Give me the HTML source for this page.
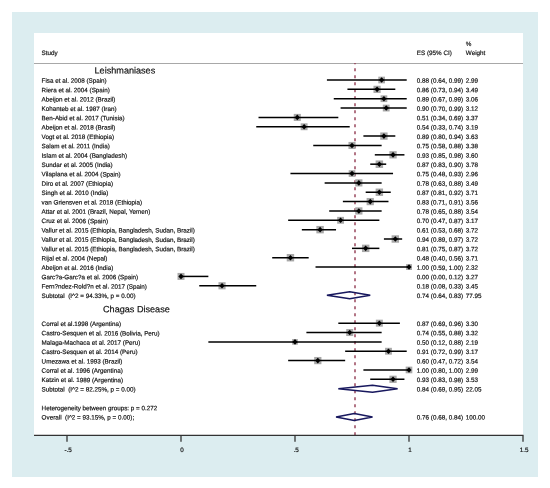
<!DOCTYPE html>
<html><head><meta charset="utf-8"><style>
html,body{margin:0;padding:0;background:#fff;}
svg{display:block;will-change:transform;}
text{font-family:"Liberation Sans", sans-serif;fill:#111111;stroke:#111111;stroke-width:0.18px;white-space:pre;}
</style></head><body>
<svg width="550" height="488" viewBox="0 0 550 488">
<rect x="0" y="0" width="550" height="488" fill="#ffffff"/>
<rect x="12" y="12" width="526" height="465" fill="#dcedf0"/>
<rect x="34" y="33" width="489" height="402.5" fill="#ffffff"/>
<text x="41.60" y="55.00" font-size="6.3" text-anchor="start" transform="rotate(0.05 41.60 55.00)">Study</text>
<text x="416.80" y="55.00" font-size="6.3" text-anchor="start" transform="rotate(0.05 416.80 55.00)">ES (95% CI)</text>
<text x="465.80" y="46.00" font-size="6.3" text-anchor="start" transform="rotate(0.05 465.80 46.00)">%</text>
<text x="465.80" y="55.00" font-size="6.3" text-anchor="start" transform="rotate(0.05 465.80 55.00)">Weight</text>
<line x1="34" y1="63.5" x2="523" y2="63.5" stroke="#a8a8a8" stroke-width="1"/>
<line x1="355.00" y1="63" x2="355.00" y2="435" stroke="#923a52" stroke-width="1.4" stroke-dasharray="3 4" stroke-dashoffset="1.8"/>
<text x="124.90" y="73.60" font-size="9.1" text-anchor="middle" transform="rotate(0.05 124.90 73.60)">Leishmaniases</text>
<text x="136.40" y="312.30" font-size="9.1" text-anchor="middle" transform="rotate(0.05 136.40 312.30)">Chagas Disease</text>
<text x="41.60" y="82.80" font-size="6.3" text-anchor="start" transform="rotate(0.05 41.60 82.80)">Fisa et al. 2008 (Spain)</text>
<text x="416.80" y="82.80" font-size="6.3" text-anchor="start" transform="rotate(0.05 416.80 82.80)">0.88 (0.64, 0.99)</text>
<text x="465.80" y="82.80" font-size="6.3" text-anchor="start" transform="rotate(0.05 465.80 82.80)">2.99</text>
<rect x="378.31" y="76.67" width="6.66" height="6.66" fill="#a8a8a8"/>
<line x1="326.92" y1="80.00" x2="406.72" y2="80.00" stroke="#000" stroke-width="1.5"/>
<path d="M379.04 80.00 L381.64 77.20 L384.24 80.00 L381.64 82.80 Z" fill="#000"/>
<text x="41.60" y="92.16" font-size="6.3" text-anchor="start" transform="rotate(0.05 41.60 92.16)">Riera et al. 2004 (Spain)</text>
<text x="416.80" y="92.16" font-size="6.3" text-anchor="start" transform="rotate(0.05 416.80 92.16)">0.86 (0.73, 0.94)</text>
<text x="465.80" y="92.16" font-size="6.3" text-anchor="start" transform="rotate(0.05 465.80 92.16)">3.49</text>
<rect x="373.48" y="85.76" width="7.19" height="7.19" fill="#a8a8a8"/>
<line x1="347.44" y1="89.36" x2="395.32" y2="89.36" stroke="#000" stroke-width="1.5"/>
<path d="M374.48 89.36 L377.08 86.56 L379.68 89.36 L377.08 92.16 Z" fill="#000"/>
<text x="41.60" y="101.51" font-size="6.3" text-anchor="start" transform="rotate(0.05 41.60 101.51)">Abeijon et al. 2012 (Brazil)</text>
<text x="416.80" y="101.51" font-size="6.3" text-anchor="start" transform="rotate(0.05 416.80 101.51)">0.89 (0.67, 0.99)</text>
<text x="465.80" y="101.51" font-size="6.3" text-anchor="start" transform="rotate(0.05 465.80 101.51)">3.06</text>
<rect x="380.55" y="95.34" width="6.73" height="6.73" fill="#a8a8a8"/>
<line x1="333.76" y1="98.71" x2="406.72" y2="98.71" stroke="#000" stroke-width="1.5"/>
<path d="M381.32 98.71 L383.92 95.91 L386.52 98.71 L383.92 101.51 Z" fill="#000"/>
<text x="41.60" y="110.86" font-size="6.3" text-anchor="start" transform="rotate(0.05 41.60 110.86)">Kohanteb et al. 1987 (Iran)</text>
<text x="416.80" y="110.86" font-size="6.3" text-anchor="start" transform="rotate(0.05 416.80 110.86)">0.90 (0.70, 0.99)</text>
<text x="465.80" y="110.86" font-size="6.3" text-anchor="start" transform="rotate(0.05 465.80 110.86)">3.12</text>
<rect x="382.80" y="104.66" width="6.80" height="6.80" fill="#a8a8a8"/>
<line x1="340.60" y1="108.06" x2="406.72" y2="108.06" stroke="#000" stroke-width="1.5"/>
<path d="M383.60 108.06 L386.20 105.26 L388.80 108.06 L386.20 110.86 Z" fill="#000"/>
<text x="41.60" y="120.22" font-size="6.3" text-anchor="start" transform="rotate(0.05 41.60 120.22)">Ben-Abid et al. 2017 (Tunisia)</text>
<text x="416.80" y="120.22" font-size="6.3" text-anchor="start" transform="rotate(0.05 416.80 120.22)">0.51 (0.34, 0.69)</text>
<text x="465.80" y="120.22" font-size="6.3" text-anchor="start" transform="rotate(0.05 465.80 120.22)">3.37</text>
<rect x="293.75" y="113.88" width="7.07" height="7.07" fill="#a8a8a8"/>
<line x1="258.52" y1="117.42" x2="338.32" y2="117.42" stroke="#000" stroke-width="1.5"/>
<path d="M294.68 117.42 L297.28 114.62 L299.88 117.42 L297.28 120.22 Z" fill="#000"/>
<text x="41.60" y="129.57" font-size="6.3" text-anchor="start" transform="rotate(0.05 41.60 129.57)">Abeijon et al. 2018 (Brasil)</text>
<text x="416.80" y="129.57" font-size="6.3" text-anchor="start" transform="rotate(0.05 416.80 129.57)">0.54 (0.33, 0.74)</text>
<text x="465.80" y="129.57" font-size="6.3" text-anchor="start" transform="rotate(0.05 465.80 129.57)">3.19</text>
<rect x="300.68" y="123.33" width="6.88" height="6.88" fill="#a8a8a8"/>
<line x1="256.24" y1="126.77" x2="349.72" y2="126.77" stroke="#000" stroke-width="1.5"/>
<path d="M301.52 126.77 L304.12 123.97 L306.72 126.77 L304.12 129.57 Z" fill="#000"/>
<text x="41.60" y="138.92" font-size="6.3" text-anchor="start" transform="rotate(0.05 41.60 138.92)">Vogt et al. 2018 (Ethiopia)</text>
<text x="416.80" y="138.92" font-size="6.3" text-anchor="start" transform="rotate(0.05 416.80 138.92)">0.89 (0.80, 0.94)</text>
<text x="465.80" y="138.92" font-size="6.3" text-anchor="start" transform="rotate(0.05 465.80 138.92)">3.63</text>
<rect x="380.25" y="132.45" width="7.34" height="7.34" fill="#a8a8a8"/>
<line x1="363.40" y1="136.12" x2="395.32" y2="136.12" stroke="#000" stroke-width="1.5"/>
<path d="M381.32 136.12 L383.92 133.32 L386.52 136.12 L383.92 138.92 Z" fill="#000"/>
<text x="41.60" y="148.27" font-size="6.3" text-anchor="start" transform="rotate(0.05 41.60 148.27)">Salam et al. 2011 (India)</text>
<text x="416.80" y="148.27" font-size="6.3" text-anchor="start" transform="rotate(0.05 416.80 148.27)">0.75 (0.58, 0.88)</text>
<text x="465.80" y="148.27" font-size="6.3" text-anchor="start" transform="rotate(0.05 465.80 148.27)">3.38</text>
<rect x="348.46" y="141.93" width="7.08" height="7.08" fill="#a8a8a8"/>
<line x1="313.24" y1="145.47" x2="381.64" y2="145.47" stroke="#000" stroke-width="1.5"/>
<path d="M349.40 145.47 L352.00 142.67 L354.60 145.47 L352.00 148.27 Z" fill="#000"/>
<text x="41.60" y="157.63" font-size="6.3" text-anchor="start" transform="rotate(0.05 41.60 157.63)">Islam et al. 2004 (Bangladesh)</text>
<text x="416.80" y="157.63" font-size="6.3" text-anchor="start" transform="rotate(0.05 416.80 157.63)">0.93 (0.85, 0.98)</text>
<text x="465.80" y="157.63" font-size="6.3" text-anchor="start" transform="rotate(0.05 465.80 157.63)">3.60</text>
<rect x="389.39" y="151.17" width="7.30" height="7.30" fill="#a8a8a8"/>
<line x1="374.80" y1="154.83" x2="404.44" y2="154.83" stroke="#000" stroke-width="1.5"/>
<path d="M390.44 154.83 L393.04 152.03 L395.64 154.83 L393.04 157.63 Z" fill="#000"/>
<text x="41.60" y="166.98" font-size="6.3" text-anchor="start" transform="rotate(0.05 41.60 166.98)">Sundar et al. 2005 (India)</text>
<text x="416.80" y="166.98" font-size="6.3" text-anchor="start" transform="rotate(0.05 416.80 166.98)">0.87 (0.83, 0.90)</text>
<text x="465.80" y="166.98" font-size="6.3" text-anchor="start" transform="rotate(0.05 465.80 166.98)">3.78</text>
<rect x="375.62" y="160.44" width="7.49" height="7.49" fill="#a8a8a8"/>
<line x1="370.24" y1="164.18" x2="386.20" y2="164.18" stroke="#000" stroke-width="1.5"/>
<path d="M376.76 164.18 L379.36 161.38 L381.96 164.18 L379.36 166.98 Z" fill="#000"/>
<text x="41.60" y="176.33" font-size="6.3" text-anchor="start" transform="rotate(0.05 41.60 176.33)">Vilaplana et al. 2004 (Spain)</text>
<text x="416.80" y="176.33" font-size="6.3" text-anchor="start" transform="rotate(0.05 416.80 176.33)">0.75 (0.48, 0.93)</text>
<text x="465.80" y="176.33" font-size="6.3" text-anchor="start" transform="rotate(0.05 465.80 176.33)">2.96</text>
<rect x="348.69" y="170.22" width="6.62" height="6.62" fill="#a8a8a8"/>
<line x1="290.44" y1="173.53" x2="393.04" y2="173.53" stroke="#000" stroke-width="1.5"/>
<path d="M349.40 173.53 L352.00 170.73 L354.60 173.53 L352.00 176.33 Z" fill="#000"/>
<text x="41.60" y="185.69" font-size="6.3" text-anchor="start" transform="rotate(0.05 41.60 185.69)">Diro et al. 2007 (Ethiopia)</text>
<text x="416.80" y="185.69" font-size="6.3" text-anchor="start" transform="rotate(0.05 416.80 185.69)">0.78 (0.63, 0.88)</text>
<text x="465.80" y="185.69" font-size="6.3" text-anchor="start" transform="rotate(0.05 465.80 185.69)">3.49</text>
<rect x="355.24" y="179.29" width="7.19" height="7.19" fill="#a8a8a8"/>
<line x1="324.64" y1="182.89" x2="381.64" y2="182.89" stroke="#000" stroke-width="1.5"/>
<path d="M356.24 182.89 L358.84 180.09 L361.44 182.89 L358.84 185.69 Z" fill="#000"/>
<text x="41.60" y="195.04" font-size="6.3" text-anchor="start" transform="rotate(0.05 41.60 195.04)">Singh et al. 2010 (India)</text>
<text x="416.80" y="195.04" font-size="6.3" text-anchor="start" transform="rotate(0.05 416.80 195.04)">0.87 (0.81, 0.92)</text>
<text x="465.80" y="195.04" font-size="6.3" text-anchor="start" transform="rotate(0.05 465.80 195.04)">3.71</text>
<rect x="375.65" y="188.53" width="7.42" height="7.42" fill="#a8a8a8"/>
<line x1="365.68" y1="192.24" x2="390.76" y2="192.24" stroke="#000" stroke-width="1.5"/>
<path d="M376.76 192.24 L379.36 189.44 L381.96 192.24 L379.36 195.04 Z" fill="#000"/>
<text x="41.60" y="204.39" font-size="6.3" text-anchor="start" transform="rotate(0.05 41.60 204.39)">van Griensven et al. 2018 (Ethiopia)</text>
<text x="416.80" y="204.39" font-size="6.3" text-anchor="start" transform="rotate(0.05 416.80 204.39)">0.83 (0.71, 0.91)</text>
<text x="465.80" y="204.39" font-size="6.3" text-anchor="start" transform="rotate(0.05 465.80 204.39)">3.56</text>
<rect x="366.61" y="197.96" width="7.26" height="7.26" fill="#a8a8a8"/>
<line x1="342.88" y1="201.59" x2="388.48" y2="201.59" stroke="#000" stroke-width="1.5"/>
<path d="M367.64 201.59 L370.24 198.79 L372.84 201.59 L370.24 204.39 Z" fill="#000"/>
<text x="41.60" y="213.75" font-size="6.3" text-anchor="start" transform="rotate(0.05 41.60 213.75)">Attar et al. 2001 (Brazil, Nepal, Yemen)</text>
<text x="416.80" y="213.75" font-size="6.3" text-anchor="start" transform="rotate(0.05 416.80 213.75)">0.78 (0.65, 0.88)</text>
<text x="465.80" y="213.75" font-size="6.3" text-anchor="start" transform="rotate(0.05 465.80 213.75)">3.54</text>
<rect x="355.22" y="207.32" width="7.24" height="7.24" fill="#a8a8a8"/>
<line x1="329.20" y1="210.94" x2="381.64" y2="210.94" stroke="#000" stroke-width="1.5"/>
<path d="M356.24 210.94 L358.84 208.14 L361.44 210.94 L358.84 213.75 Z" fill="#000"/>
<text x="41.60" y="223.10" font-size="6.3" text-anchor="start" transform="rotate(0.05 41.60 223.10)">Cruz et al. 2006 (Spain)</text>
<text x="416.80" y="223.10" font-size="6.3" text-anchor="start" transform="rotate(0.05 416.80 223.10)">0.70 (0.47, 0.87)</text>
<text x="465.80" y="223.10" font-size="6.3" text-anchor="start" transform="rotate(0.05 465.80 223.10)">3.17</text>
<rect x="337.17" y="216.87" width="6.85" height="6.85" fill="#a8a8a8"/>
<line x1="288.16" y1="220.30" x2="379.36" y2="220.30" stroke="#000" stroke-width="1.5"/>
<path d="M338.00 220.30 L340.60 217.50 L343.20 220.30 L340.60 223.10 Z" fill="#000"/>
<text x="41.60" y="232.45" font-size="6.3" text-anchor="start" transform="rotate(0.05 41.60 232.45)">Vallur et al. 2015 (Ethiopia, Bangladesh, Sudan, Brazil)</text>
<text x="416.80" y="232.45" font-size="6.3" text-anchor="start" transform="rotate(0.05 416.80 232.45)">0.61 (0.53, 0.68)</text>
<text x="465.80" y="232.45" font-size="6.3" text-anchor="start" transform="rotate(0.05 465.80 232.45)">3.72</text>
<rect x="316.37" y="225.94" width="7.43" height="7.43" fill="#a8a8a8"/>
<line x1="301.84" y1="229.65" x2="336.04" y2="229.65" stroke="#000" stroke-width="1.5"/>
<path d="M317.48 229.65 L320.08 226.85 L322.68 229.65 L320.08 232.45 Z" fill="#000"/>
<text x="41.60" y="241.80" font-size="6.3" text-anchor="start" transform="rotate(0.05 41.60 241.80)">Vallur et al. 2015 (Ethiopia, Bangladesh, Sudan, Brazil)</text>
<text x="416.80" y="241.80" font-size="6.3" text-anchor="start" transform="rotate(0.05 416.80 241.80)">0.94 (0.89, 0.97)</text>
<text x="465.80" y="241.80" font-size="6.3" text-anchor="start" transform="rotate(0.05 465.80 241.80)">3.72</text>
<rect x="391.61" y="235.29" width="7.43" height="7.43" fill="#a8a8a8"/>
<line x1="383.92" y1="239.00" x2="402.16" y2="239.00" stroke="#000" stroke-width="1.5"/>
<path d="M392.72 239.00 L395.32 236.20 L397.92 239.00 L395.32 241.80 Z" fill="#000"/>
<text x="41.60" y="251.16" font-size="6.3" text-anchor="start" transform="rotate(0.05 41.60 251.16)">Vallur et al. 2015 (Ethiopia, Bangladesh, Sudan, Brazil)</text>
<text x="416.80" y="251.16" font-size="6.3" text-anchor="start" transform="rotate(0.05 416.80 251.16)">0.81 (0.75, 0.87)</text>
<text x="465.80" y="251.16" font-size="6.3" text-anchor="start" transform="rotate(0.05 465.80 251.16)">3.72</text>
<rect x="361.97" y="244.64" width="7.43" height="7.43" fill="#a8a8a8"/>
<line x1="352.00" y1="248.36" x2="379.36" y2="248.36" stroke="#000" stroke-width="1.5"/>
<path d="M363.08 248.36 L365.68 245.56 L368.28 248.36 L365.68 251.16 Z" fill="#000"/>
<text x="41.60" y="260.51" font-size="6.3" text-anchor="start" transform="rotate(0.05 41.60 260.51)">Rijal et al. 2004 (Nepal)</text>
<text x="416.80" y="260.51" font-size="6.3" text-anchor="start" transform="rotate(0.05 416.80 260.51)">0.48 (0.40, 0.56)</text>
<text x="465.80" y="260.51" font-size="6.3" text-anchor="start" transform="rotate(0.05 465.80 260.51)">3.71</text>
<rect x="286.73" y="254.00" width="7.42" height="7.42" fill="#a8a8a8"/>
<line x1="272.20" y1="257.71" x2="308.68" y2="257.71" stroke="#000" stroke-width="1.5"/>
<path d="M287.84 257.71 L290.44 254.91 L293.04 257.71 L290.44 260.51 Z" fill="#000"/>
<text x="41.60" y="269.86" font-size="6.3" text-anchor="start" transform="rotate(0.05 41.60 269.86)">Abeijon et al. 2016 (India)</text>
<text x="416.80" y="269.86" font-size="6.3" text-anchor="start" transform="rotate(0.05 416.80 269.86)">1.00 (0.59, 1.00)</text>
<text x="465.80" y="269.86" font-size="6.3" text-anchor="start" transform="rotate(0.05 465.80 269.86)">2.32</text>
<rect x="406.07" y="264.13" width="5.86" height="5.86" fill="#a8a8a8"/>
<line x1="315.52" y1="267.06" x2="409.00" y2="267.06" stroke="#000" stroke-width="1.5"/>
<path d="M406.40 267.06 L409.00 264.26 L411.60 267.06 L409.00 269.86 Z" fill="#000"/>
<text x="41.60" y="279.22" font-size="6.3" text-anchor="start" transform="rotate(0.05 41.60 279.22)">Garc?a-Garc?a et al. 2006 (Spain)</text>
<text x="416.80" y="279.22" font-size="6.3" text-anchor="start" transform="rotate(0.05 416.80 279.22)">0.00 (0.00, 0.12)</text>
<text x="465.80" y="279.22" font-size="6.3" text-anchor="start" transform="rotate(0.05 465.80 279.22)">3.27</text>
<rect x="177.52" y="272.93" width="6.96" height="6.96" fill="#a8a8a8"/>
<line x1="181.00" y1="276.42" x2="208.36" y2="276.42" stroke="#000" stroke-width="1.5"/>
<path d="M178.40 276.42 L181.00 273.62 L183.60 276.42 L181.00 279.22 Z" fill="#000"/>
<text x="41.60" y="288.57" font-size="6.3" text-anchor="start" transform="rotate(0.05 41.60 288.57)">Fern?ndez-Rold?n et al. 2017 (Spain)</text>
<text x="416.80" y="288.57" font-size="6.3" text-anchor="start" transform="rotate(0.05 416.80 288.57)">0.18 (0.08, 0.33)</text>
<text x="465.80" y="288.57" font-size="6.3" text-anchor="start" transform="rotate(0.05 465.80 288.57)">3.45</text>
<rect x="218.46" y="282.19" width="7.15" height="7.15" fill="#a8a8a8"/>
<line x1="199.24" y1="285.77" x2="256.24" y2="285.77" stroke="#000" stroke-width="1.5"/>
<path d="M219.44 285.77 L222.04 282.97 L224.64 285.77 L222.04 288.57 Z" fill="#000"/>
<text x="41.60" y="297.92" font-size="6.3" text-anchor="start" transform="rotate(0.05 41.60 297.92)">Subtotal  (I^2 = 94.33%, p = 0.00)</text>
<text x="416.80" y="297.92" font-size="6.3" text-anchor="start" transform="rotate(0.05 416.80 297.92)">0.74 (0.64, 0.83)</text>
<text x="465.80" y="297.92" font-size="6.3" text-anchor="start" transform="rotate(0.05 465.80 297.92)">77.95</text>
<path d="M326.92 295.32 L349.72 291.82 L370.24 295.32 L349.72 298.82 Z" fill="none" stroke="#18185e" stroke-width="1.5" stroke-linejoin="bevel"/>
<text x="41.60" y="325.98" font-size="6.3" text-anchor="start" transform="rotate(0.05 41.60 325.98)">Corral et al.1998 (Argentina)</text>
<text x="416.80" y="325.98" font-size="6.3" text-anchor="start" transform="rotate(0.05 416.80 325.98)">0.87 (0.69, 0.96)</text>
<text x="465.80" y="325.98" font-size="6.3" text-anchor="start" transform="rotate(0.05 465.80 325.98)">3.30</text>
<rect x="375.86" y="319.68" width="6.99" height="6.99" fill="#a8a8a8"/>
<line x1="338.32" y1="323.18" x2="399.88" y2="323.18" stroke="#000" stroke-width="1.5"/>
<path d="M376.76 323.18 L379.36 320.38 L381.96 323.18 L379.36 325.98 Z" fill="#000"/>
<text x="41.60" y="335.33" font-size="6.3" text-anchor="start" transform="rotate(0.05 41.60 335.33)">Castro-Sesquen et al. 2016 (Bolivia, Peru)</text>
<text x="416.80" y="335.33" font-size="6.3" text-anchor="start" transform="rotate(0.05 416.80 335.33)">0.74 (0.55, 0.88)</text>
<text x="465.80" y="335.33" font-size="6.3" text-anchor="start" transform="rotate(0.05 465.80 335.33)">3.32</text>
<rect x="346.21" y="329.03" width="7.02" height="7.02" fill="#a8a8a8"/>
<line x1="306.40" y1="332.53" x2="381.64" y2="332.53" stroke="#000" stroke-width="1.5"/>
<path d="M347.12 332.53 L349.72 329.73 L352.32 332.53 L349.72 335.33 Z" fill="#000"/>
<text x="41.60" y="344.69" font-size="6.3" text-anchor="start" transform="rotate(0.05 41.60 344.69)">Malaga-Machaca et al. 2017 (Peru)</text>
<text x="416.80" y="344.69" font-size="6.3" text-anchor="start" transform="rotate(0.05 416.80 344.69)">0.50 (0.12, 0.88)</text>
<text x="465.80" y="344.69" font-size="6.3" text-anchor="start" transform="rotate(0.05 465.80 344.69)">2.19</text>
<rect x="292.15" y="339.04" width="5.70" height="5.70" fill="#a8a8a8"/>
<line x1="208.36" y1="341.89" x2="381.64" y2="341.89" stroke="#000" stroke-width="1.5"/>
<path d="M292.40 341.89 L295.00 339.09 L297.60 341.89 L295.00 344.69 Z" fill="#000"/>
<text x="41.60" y="354.04" font-size="6.3" text-anchor="start" transform="rotate(0.05 41.60 354.04)">Castro-Sesquen et al. 2014 (Peru)</text>
<text x="416.80" y="354.04" font-size="6.3" text-anchor="start" transform="rotate(0.05 416.80 354.04)">0.91 (0.72, 0.99)</text>
<text x="465.80" y="354.04" font-size="6.3" text-anchor="start" transform="rotate(0.05 465.80 354.04)">3.17</text>
<rect x="385.05" y="347.81" width="6.85" height="6.85" fill="#a8a8a8"/>
<line x1="345.16" y1="351.24" x2="406.72" y2="351.24" stroke="#000" stroke-width="1.5"/>
<path d="M385.88 351.24 L388.48 348.44 L391.08 351.24 L388.48 354.04 Z" fill="#000"/>
<text x="41.60" y="363.39" font-size="6.3" text-anchor="start" transform="rotate(0.05 41.60 363.39)">Umezawa et al. 1993 (Brazil)</text>
<text x="416.80" y="363.39" font-size="6.3" text-anchor="start" transform="rotate(0.05 416.80 363.39)">0.60 (0.47, 0.72)</text>
<text x="465.80" y="363.39" font-size="6.3" text-anchor="start" transform="rotate(0.05 465.80 363.39)">3.54</text>
<rect x="314.18" y="356.97" width="7.24" height="7.24" fill="#a8a8a8"/>
<line x1="288.16" y1="360.59" x2="345.16" y2="360.59" stroke="#000" stroke-width="1.5"/>
<path d="M315.20 360.59 L317.80 357.79 L320.40 360.59 L317.80 363.39 Z" fill="#000"/>
<text x="41.60" y="372.75" font-size="6.3" text-anchor="start" transform="rotate(0.05 41.60 372.75)">Corral et al. 1996 (Argentina)</text>
<text x="416.80" y="372.75" font-size="6.3" text-anchor="start" transform="rotate(0.05 416.80 372.75)">1.00 (0.80, 1.00)</text>
<text x="465.80" y="372.75" font-size="6.3" text-anchor="start" transform="rotate(0.05 465.80 372.75)">2.99</text>
<rect x="405.67" y="366.62" width="6.66" height="6.66" fill="#a8a8a8"/>
<line x1="363.40" y1="369.95" x2="409.00" y2="369.95" stroke="#000" stroke-width="1.5"/>
<path d="M406.40 369.95 L409.00 367.15 L411.60 369.95 L409.00 372.75 Z" fill="#000"/>
<text x="41.60" y="382.10" font-size="6.3" text-anchor="start" transform="rotate(0.05 41.60 382.10)">Katzin et al. 1989 (Argentina)</text>
<text x="416.80" y="382.10" font-size="6.3" text-anchor="start" transform="rotate(0.05 416.80 382.10)">0.93 (0.83, 0.98)</text>
<text x="465.80" y="382.10" font-size="6.3" text-anchor="start" transform="rotate(0.05 465.80 382.10)">3.53</text>
<rect x="389.42" y="375.68" width="7.23" height="7.23" fill="#a8a8a8"/>
<line x1="370.24" y1="379.30" x2="404.44" y2="379.30" stroke="#000" stroke-width="1.5"/>
<path d="M390.44 379.30 L393.04 376.50 L395.64 379.30 L393.04 382.10 Z" fill="#000"/>
<text x="41.60" y="391.45" font-size="6.3" text-anchor="start" transform="rotate(0.05 41.60 391.45)">Subtotal  (I^2 = 82.25%, p = 0.00)</text>
<text x="416.80" y="391.45" font-size="6.3" text-anchor="start" transform="rotate(0.05 416.80 391.45)">0.84 (0.69, 0.95)</text>
<text x="465.80" y="391.45" font-size="6.3" text-anchor="start" transform="rotate(0.05 465.80 391.45)">22.05</text>
<path d="M338.32 388.85 L372.52 385.35 L397.60 388.85 L372.52 392.35 Z" fill="none" stroke="#18185e" stroke-width="1.5" stroke-linejoin="bevel"/>
<text x="41.60" y="410.16" font-size="6.3" text-anchor="start" transform="rotate(0.05 41.60 410.16)">Heterogeneity between groups: p = 0.272</text>
<text x="41.60" y="419.51" font-size="6.3" text-anchor="start" transform="rotate(0.05 41.60 419.51)">Overall  (I^2 = 93.15%, p = 0.00);</text>
<text x="416.80" y="419.51" font-size="6.3" text-anchor="start" transform="rotate(0.05 416.80 419.51)">0.76 (0.68, 0.84)</text>
<text x="465.80" y="419.51" font-size="6.3" text-anchor="start" transform="rotate(0.05 465.80 419.51)">100.00</text>
<path d="M336.04 416.91 L354.28 413.41 L372.52 416.91 L354.28 420.41 Z" fill="none" stroke="#18185e" stroke-width="1.5" stroke-linejoin="bevel"/>
<line x1="34" y1="435.4" x2="523.5" y2="435.4" stroke="#333" stroke-width="1.3"/>
<line x1="67.00" y1="435.4" x2="67.00" y2="441.8" stroke="#333" stroke-width="1.3"/>
<text x="68.10" y="451.90" font-size="6.3" text-anchor="middle" transform="rotate(0.05 68.10 451.90)">-.5</text>
<line x1="181.00" y1="435.4" x2="181.00" y2="441.8" stroke="#333" stroke-width="1.3"/>
<text x="182.10" y="451.90" font-size="6.3" text-anchor="middle" transform="rotate(0.05 182.10 451.90)">0</text>
<line x1="295.00" y1="435.4" x2="295.00" y2="441.8" stroke="#333" stroke-width="1.3"/>
<text x="296.10" y="451.90" font-size="6.3" text-anchor="middle" transform="rotate(0.05 296.10 451.90)">.5</text>
<line x1="409.00" y1="435.4" x2="409.00" y2="441.8" stroke="#333" stroke-width="1.3"/>
<text x="410.10" y="451.90" font-size="6.3" text-anchor="middle" transform="rotate(0.05 410.10 451.90)">1</text>
<line x1="523.00" y1="435.4" x2="523.00" y2="441.8" stroke="#333" stroke-width="1.3"/>
<text x="524.10" y="451.90" font-size="6.3" text-anchor="middle" transform="rotate(0.05 524.10 451.90)">1.5</text>
</svg>
</body></html>
